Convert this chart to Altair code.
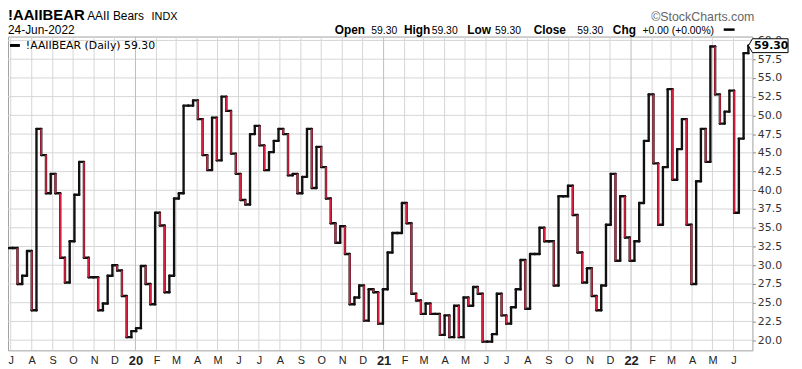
import altair as alt
import pandas as pd

# Weekly AAII bearish readings (%), one per Thursday starting 2019-06-27
week_start = "2019-06-27"
last_day = "2022-06-24"
bears = [
    32.3, 32.3, 27.5, 28.6, 31.9, 24.0, 48.2, 44.7, 39.6, 42.2,
    39.6, 31.0, 27.7, 33.2, 39.4, 43.8, 31.0, 28.4, 28.4, 24.0,
    24.9, 28.6, 30.0, 29.3, 25.9, 20.4, 21.2, 21.6, 29.9, 27.5,
    24.8, 37.0, 35.3, 26.4, 28.6, 38.9, 39.6, 51.3, 51.3, 52.0,
    49.5, 44.7, 42.7, 49.7, 44.0, 52.5, 50.6, 44.9, 42.2, 38.7,
    38.1, 47.5, 48.6, 46.0, 42.7, 45.1, 46.6, 48.2, 47.5, 42.0,
    42.2, 39.6, 41.8, 48.2, 40.3, 45.8, 43.1, 38.9, 35.6, 33.0,
    35.2, 31.5, 24.8, 25.7, 27.3, 22.6, 26.8, 26.4, 22.2, 26.8,
    31.7, 34.3, 34.3, 38.3, 35.6, 26.2, 25.3, 23.5, 24.9, 23.5,
    23.5, 20.7, 23.3, 20.4, 24.6, 20.4, 25.7, 24.6, 27.1, 26.2,
    19.8, 19.8, 20.8, 26.2, 23.3, 22.2, 24.4, 26.8, 30.7, 24.2,
    31.5, 31.5, 35.0, 33.2, 33.2, 27.3, 39.2, 39.2, 40.6, 36.7,
    31.7, 27.7, 29.6, 25.9, 24.0, 27.3, 35.4, 42.2, 30.6, 39.2,
    33.7, 30.6, 33.2, 38.3, 46.6, 52.8, 43.6, 35.4, 43.1, 53.5,
    41.4, 45.5, 49.5, 35.4, 27.5, 41.2, 48.2, 43.8, 59.2, 52.8,
    48.9, 50.5, 53.3, 37.0, 46.9, 58.3, 59.3,
]
y_ticks = [20.0, 22.5, 25.0, 27.5, 30.0, 32.5, 35.0, 37.5, 40.0, 42.5,
           45.0, 47.5, 50.0, 52.5, 55.0, 57.5, 60.0]
month_starts = pd.date_range("2019-07-01", "2022-06-01", freq="MS")
x_start, x_end = "2019-06-27", "2022-06-29"
Y_MIN, Y_MAX = 18.64, 60.52
H = 317

# build step segments + grid lines in one table
dates = pd.date_range(week_start, periods=len(bears), freq="7D")
ends = list(dates[1:]) + [pd.Timestamp(last_day)]
rows = []
for d in month_starts:
    rows.append(dict(x=d, x2=d, y=Y_MIN, y2=Y_MAX, kind="vjan" if d.month == 1 else "v"))
for t in y_ticks:
    rows.append(dict(x=pd.Timestamp(x_start), x2=pd.Timestamp(x_end), y=t, y2=t, kind="h"))
for i, v in enumerate(bears):
    rows.append(dict(x=dates[i], x2=ends[i], y=v, y2=v, kind="up"))
    if i + 1 < len(bears):
        rows.append(dict(x=ends[i], x2=ends[i], y=v, y2=bears[i + 1],
                         kind="down" if bears[i + 1] < v else "up"))
seg = pd.DataFrame(rows)

xscale = alt.Scale(domain=[alt.DateTime(year=2019, month=6, date=27),
                           alt.DateTime(year=2022, month=6, date=29)])
yscale = alt.Scale(domain=[Y_MIN, Y_MAX], zero=False, nice=False)

tick_vals = [alt.DateTime(year=int(d.year), month=int(d.month), date=1) for d in month_starts]

xaxis = alt.Axis(
    title=None, values=tick_vals, grid=False, domain=False, ticks=False,
    labelExpr="month(datum.value) === 0 ? timeFormat(datum.value, '%y') : slice(timeFormat(datum.value, '%b'), 0, 1)",
    labelFont="Liberation Sans", labelColor="#222",
    labelFontSize={"condition": {"test": "month(datum.value) === 0", "value": 13}, "value": 11},
    labelFontWeight={"condition": {"test": "month(datum.value) === 0", "value": "bold"}, "value": "normal"},
    labelPadding=4, labelBaseline="top", labelOverlap=False,
)
yaxis = alt.Axis(
    title=None, orient="right", values=y_ticks, format=".1f", grid=False,
    domain=False, tickSize=3, tickColor="#888", labelPadding=2, labelFont="DejaVu Sans",
    labelFontSize=11, labelColor="#333", labelOverlap=False,
)
X = alt.X("x:T", scale=xscale, axis=xaxis)
Yq = alt.Y("y:Q", scale=yscale, axis=yaxis)

base = alt.Chart(seg)
grid_light = base.transform_filter("datum.kind === 'v' || datum.kind === 'h'").mark_rule(
    color="#d6d6d6", strokeWidth=1).encode(x=X, x2="x2:T", y=Yq, y2="y2:Q")
grid_jan = base.transform_filter("datum.kind === 'vjan'").mark_rule(
    color="#bdbdbd", strokeWidth=1).encode(x=X, x2="x2:T", y=Yq, y2="y2:Q")
black_line = base.transform_filter("datum.kind === 'up' || datum.kind === 'down'").mark_rule(
    color="#111", strokeWidth=2.4, strokeCap="round").encode(
    x=X, x2="x2:T", y=Yq, y2="y2:Q")
red_line = base.transform_filter("datum.kind === 'down'").mark_rule(
    color="#d4203f", strokeWidth=1.7, strokeCap="butt").encode(
    x=X, x2="x2:T", y=Yq, y2="y2:Q")


def label(text, x, y, size, weight="normal", color="#000", font="Liberation Sans", align="left"):
    return alt.Chart(pd.DataFrame({"t": [text]})).mark_text(
        align=align, baseline="alphabetic", fontSize=size, fontWeight=weight,
        color=color, font=font).encode(x=alt.value(x), y=alt.value(y), text="t:N")


last_val = bears[-1]
box_y = (Y_MAX - last_val) / (Y_MAX - Y_MIN) * H
one = pd.DataFrame({"v": [last_val]})
layers = [
    grid_light, grid_jan, black_line, red_line,
    label("!AAIIBEAR", 0, -17, 15, "bold"),
    label("AAII Bears", 80, -17, 12),
    label("INDX", 145, -17, 11),
    label("24-Jun-2022", 0, -3, 12),
    label("\u00a9StockCharts.com", 754, -16, 12.5, color="#666", align="right"),
    label("Open", 330, -3, 12, "bold"),
    label("59.30", 367, -3, 10.5),
    label("High", 400, -3, 12, "bold"),
    label("59.30", 428, -3, 10.5),
    label("Low", 464, -3, 12, "bold"),
    label("59.30", 492, -3, 10.5),
    label("Close", 531, -3, 12, "bold"),
    label("59.30", 575, -3, 10.5),
    label("Chg", 611, -3, 12, "bold"),
    label("+0.00 (+0.00%)", 641, -3, 10.5),
    alt.Chart(one).mark_rule(color="#000", strokeWidth=2.5).encode(
        x=alt.value(723), x2=alt.value(734), y=alt.value(-7)),
    alt.Chart(one).mark_rule(color="#000", strokeWidth=3).encode(
        x=alt.value(2), x2=alt.value(12), y=alt.value(9)),
    label("!AAIIBEAR (Daily) 59.30", 18, 13, 11, font="DejaVu Sans"),
    alt.Chart(one).mark_point(
        shape="M -1 0 L -0.8 -0.35 L 1 -0.35 L 1 0.35 L -0.8 0.35 Z",
        size=1600, filled=True, fill="white", stroke="#000", strokeWidth=1, opacity=1).encode(
        x=alt.value(768), y=alt.value(box_y)),
    alt.Chart(one).mark_text(font="DejaVu Sans", fontWeight="bold", fontSize=11,
                             baseline="middle", align="center", color="#000").encode(
        x=alt.value(771), y=alt.value(box_y), text=alt.Text("v:Q", format=".2f")),
]

chart = alt.layer(*layers).properties(
    width=752, height=H,
    autosize=alt.AutoSizeParams(type="none"),
    padding={"left": 0, "top": 27, "right": 42, "bottom": 17},
    background="white",
).configure_view(stroke="#a0a0a0", strokeWidth=1).configure_axis(labelOverlap=False)

chart.save("out.html", embed_options={"renderer": "svg", "actions": False})
